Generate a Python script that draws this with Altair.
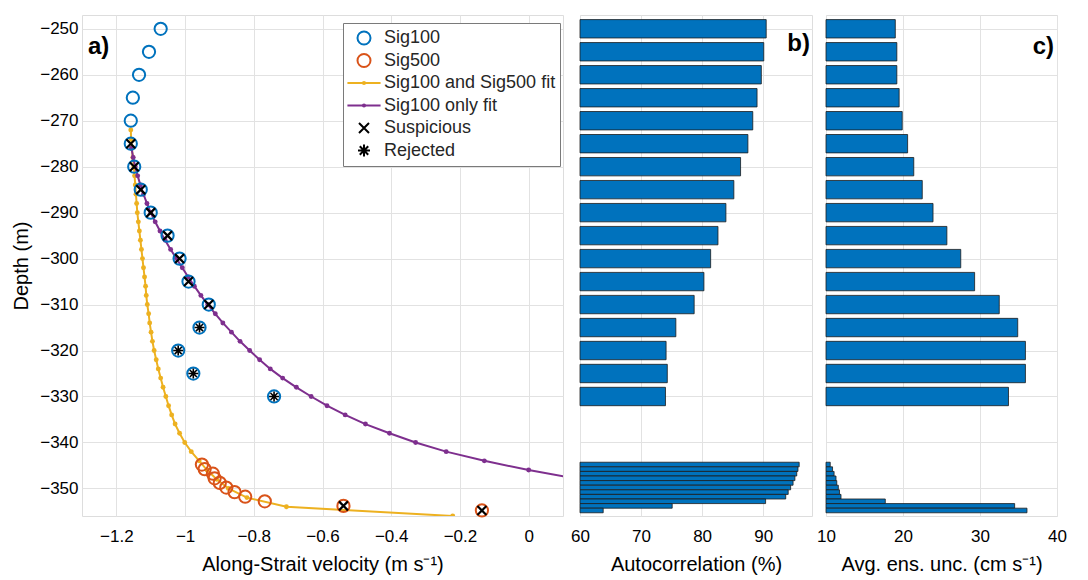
import altair as alt
import pandas as pd

# ---------------- data ----------------
sig100_depth = [-250, -255, -260, -265, -270, -275, -280, -285, -290, -295,
                -300, -305, -310, -315, -320, -325, -330]
sig100_vel = [-1.071, -1.105, -1.134, -1.152, -1.158, -1.158, -1.148, -1.129, -1.100, -1.051,
              -1.016, -0.990, -0.931, -0.958, -1.020, -0.976, -0.741]
sig100_flag = ["", "", "", "", "", "S", "S", "S", "S", "S",
               "S", "S", "S", "R", "R", "R", "R"]

sig500_depth = [-344.8, -345.8, -346.8, -347.8, -348.8, -349.8, -350.8, -351.8,
                -352.8, -353.8, -354.8]
sig500_vel = [-0.951, -0.943, -0.919, -0.914, -0.899, -0.880, -0.856, -0.825,
              -0.768, -0.539, -0.136]
sig500_flag = ["", "", "", "", "", "", "", "", "", "S", "S"]

fit_both_depth = [-272, -274, -276, -278, -280, -282, -284, -286, -288, -290,
                  -292, -294, -296, -298, -300, -302, -304, -306, -308, -310,
                  -312, -314, -316, -318, -320, -322, -324, -326, -328, -330,
                  -332, -334, -336, -338, -340, -342, -344, -346, -348, -350,
                  -352, -354, -356]
fit_both_vel = [-1.158, -1.157, -1.155, -1.152, -1.149, -1.147, -1.145, -1.143, -1.141, -1.139,
                -1.136, -1.133, -1.130, -1.127, -1.124, -1.121, -1.118, -1.115, -1.113, -1.110,
                -1.106, -1.103, -1.099, -1.095, -1.090, -1.084, -1.078, -1.071, -1.064, -1.056,
                -1.048, -1.039, -1.029, -1.016, -1.001, -0.982, -0.959, -0.936, -0.908, -0.874,
                -0.820, -0.705, -0.221]

fit_100_depth = [-276, -278, -280, -282, -284, -286, -288, -290, -292, -294,
                 -296, -298, -300, -302, -304, -306, -308, -310, -312, -314,
                 -316, -318, -320, -322, -324, -326, -328, -330, -332, -334,
                 -336, -338, -340, -342, -344, -346, -348]
fit_100_vel = [-1.156, -1.151, -1.145, -1.138, -1.130, -1.121, -1.111, -1.100, -1.087, -1.073,
               -1.058, -1.042, -1.025, -1.008, -0.991, -0.973, -0.954, -0.934, -0.912, -0.890,
               -0.865, -0.840, -0.812, -0.783, -0.752, -0.716, -0.676, -0.633, -0.587, -0.534,
               -0.475, -0.405, -0.329, -0.240, -0.129, 0.000, 0.150]

autocorr_100 = [90.5, 90.1, 89.7, 89.0, 88.3, 87.5, 86.3, 85.2, 83.9, 82.6,
                81.4, 80.3, 78.7, 75.7, 74.1, 74.3, 74.0]
autocorr_500 = [95.9, 95.7, 95.5, 95.2, 94.9, 94.5, 94.1, 93.7, 90.4, 75.1, 63.8]

unc_100 = [19.0, 19.2, 19.2, 19.5, 19.9, 20.6, 21.4, 22.5, 23.9, 25.7,
           27.5, 29.3, 32.5, 34.9, 35.9, 35.9, 33.7]
unc_500 = [10.55, 10.85, 11.05, 11.3, 11.4, 11.6, 11.75, 11.95, 17.7, 34.5, 36.1]

legend_names = ["Sig100", "Sig500", "Sig100 and Sig500 fit", "Sig100 only fit",
                "Suspicious", "Rejected"]

x_ticks_a = [-1.2, -1.0, -0.8, -0.6, -0.4, -0.2, 0.0]
x_ticks_b = [60, 70, 80, 90]
x_ticks_c = [10, 20, 30, 40]
y_ticks = [-350, -340, -330, -320, -310, -300, -290, -280, -270, -260, -250]

# ---------------- styling ----------------
FONT = "Liberation Sans"
TXT = "#262626"
BOX = "#7a7a7a"
GRID = "#e2e2e2"
BLUE = "#0072BD"
ORANGE = "#D95319"
YELLOW = "#EDB120"
PURPLE = "#7E2F8E"

X_PATH = "M-0.77,-0.77L0.77,0.77M-0.77,0.77L0.77,-0.77"
AST_PATH = ("M-0.92,0L0.92,0M0,-0.92L0,0.92"
            "M-0.65,-0.65L0.65,0.65M-0.65,0.65L0.65,-0.65")
LINE_PATH = ("M-2.55,0L2.55,0"
             "M0.17,0A0.17,0.17,0,1,1,-0.17,0A0.17,0.17,0,1,1,0.17,0")

# ---------------- tables ----------------
sig100 = pd.DataFrame({"d": sig100_depth, "v": sig100_vel, "flag": sig100_flag})
sig500 = pd.DataFrame({"d": sig500_depth, "v": sig500_vel, "flag": sig500_flag})
flags = pd.concat([sig100, sig500], ignore_index=True)
fit_both = pd.DataFrame({"d": fit_both_depth, "v": fit_both_vel})
fit_100 = pd.DataFrame({"d": fit_100_depth, "v": fit_100_vel})
legend_df = pd.DataFrame({"series": legend_names})

bars = pd.DataFrame({
    "depth": sig100_depth + sig500_depth,
    "group": ["Sig100"] * len(sig100_depth) + ["Sig500"] * len(sig500_depth),
    "ac": autocorr_100 + autocorr_500,
    "unc": unc_100 + unc_500,
})

y_scale = alt.Scale(domain=[-356, -247], nice=False, zero=False)
xa_scale = alt.Scale(domain=[-1.3, 0.1], nice=False, zero=False)

y_axis_a = alt.Axis(values=y_ticks, format="d", title="Depth (m)", ticks=False,
                    domain=False, labelPadding=4, titlePadding=8, labelFontSize=17,
                    titleFontSize=20, titleFontWeight="normal", gridColor=GRID)
x_axis_a = alt.Axis(values=x_ticks_a, format="~g", title="Along-Strait velocity (m s⁻¹)",
                    ticks=False, domain=False, labelPadding=12, titlePadding=10,
                    labelFontSize=17, titleFontSize=20, titleFontWeight="normal",
                    labelFlush=False, gridColor=GRID)

X = alt.X("v:Q", scale=xa_scale, axis=x_axis_a)
Y = alt.Y("d:Q", scale=y_scale, axis=y_axis_a)

line_both = alt.Chart(fit_both).mark_line(color=YELLOW, strokeWidth=2, clip=True).encode(
    x=X, y=Y, order="d:Q")
dots_both = alt.Chart(fit_both).mark_point(color=YELLOW, filled=True, size=24, opacity=1,
                                           shape="circle", clip=True).encode(x=X, y=Y)
line_100 = alt.Chart(fit_100).mark_line(color=PURPLE, strokeWidth=2, clip=True).encode(
    x=X, y=Y, order="d:Q")
dots_100 = alt.Chart(fit_100).mark_point(color=PURPLE, filled=True, size=24, opacity=1,
                                         shape="circle", clip=True).encode(x=X, y=Y)

circ100 = alt.Chart(sig100).mark_point(shape="circle", filled=False, color=BLUE,
                                       strokeWidth=2, size=150, opacity=1).encode(x=X, y=Y)
circ500 = alt.Chart(sig500).mark_point(shape="circle", filled=False, color=ORANGE,
                                       strokeWidth=2, size=150, opacity=1).encode(x=X, y=Y)
susp = alt.Chart(flags).transform_filter("datum.flag == 'S'").mark_point(
    shape=X_PATH, filled=False, color="black", strokeWidth=2.2, size=136, opacity=1
).encode(x=X, y=Y)
rej = alt.Chart(flags).transform_filter("datum.flag == 'R'").mark_point(
    shape=AST_PATH, filled=False, color="black", strokeWidth=1.6, size=118, opacity=1
).encode(x=X, y=Y)

legend_layer = alt.Chart(legend_df).mark_point(filled=False, opacity=0).encode(
    color=alt.Color("series:N",
                    scale=alt.Scale(domain=legend_names,
                                    range=[BLUE, ORANGE, YELLOW, PURPLE, "black", "black"]),
                    legend=alt.Legend(title=None, orient="none", legendX=261, legendY=8,
                                      symbolSize=169, symbolStrokeWidth=2, symbolOpacity=1,
                                      labelFontSize=18, labelFont=FONT, labelColor=TXT,
                                      padding=4, rowPadding=0.5, clipHeight=22,
                                      symbolOffset=8, labelOffset=11, strokeColor=BOX,
                                      fillColor="white", labelLimit=300)),
    shape=alt.Shape("series:N",
                    scale=alt.Scale(domain=legend_names,
                                    range=["circle", "circle", LINE_PATH, LINE_PATH,
                                           X_PATH, AST_PATH]),
                    legend=alt.Legend(title=None, orient="none", legendX=261, legendY=8)),
)

label_a = alt.Chart(pd.DataFrame({"t": ["a)"]})).mark_text(
    align="left", baseline="middle", fontSize=24, fontWeight="bold", font=FONT, color="black"
).encode(x=alt.value(6), y=alt.value(32), text="t:N")

panel_a = alt.layer(line_both, dots_both, line_100, dots_100, circ100, circ500, susp, rej,
                    legend_layer, label_a).properties(width=481, height=501)

# ---------------- panels b and c ----------------
y_axis_bc = alt.Axis(values=y_ticks, labels=False, ticks=False, domain=False, title=None,
                     gridColor=GRID, minExtent=0, maxExtent=0, labelPadding=0)


def bar_panel(field, dom, ticks, title, label, label_y):
    base = alt.Chart(bars).transform_calculate(
        half="datum.group == 'Sig100' ? 2 : 0.5"
    ).transform_calculate(
        y1="datum.depth + datum.half", y2="datum.depth - datum.half"
    )
    b = base.mark_bar(color=BLUE, stroke="#1c1c1c", strokeWidth=0.8, opacity=1).encode(
        x=alt.X(f"{field}:Q", scale=alt.Scale(domain=dom[:2], nice=False, zero=False),
                axis=alt.Axis(values=ticks, format="d", title=title, ticks=False,
                              domain=False, labelPadding=12, titlePadding=10,
                              labelFontSize=17, titleFontSize=20, titleFontWeight="normal",
                              labelFlush=False, gridColor=GRID)),
        x2=alt.datum(dom[0]),
        y=alt.Y("y1:Q", scale=y_scale, axis=y_axis_bc),
        y2="y2:Q",
    )
    t = alt.Chart(pd.DataFrame({"t": [label]})).mark_text(
        align="right", baseline="middle", fontSize=24, fontWeight="bold", font=FONT,
        color="black"
    ).encode(x=alt.value(dom[2]), y=alt.value(label_y), text="t:N")
    return alt.layer(b, t)


panel_b = bar_panel("ac", [60, 98, 230], x_ticks_b, "Autocorrelation (%)", "b)", 29).properties(
    width=232, height=501)
panel_c = bar_panel("unc", [10, 40, 228], x_ticks_c, "Avg. ens. unc. (cm s⁻¹)", "c)", 32).properties(
    width=231, height=501)

chart = alt.hconcat(
    panel_a,
    alt.hconcat(panel_b, panel_c, spacing=14, bounds="flush"),
    spacing=17, bounds="flush"
).properties(
    padding={"left": 11, "top": 14, "right": 5, "bottom": 2}
).configure_view(
    stroke=BOX, strokeWidth=1
).configure_axis(
    labelFont=FONT, titleFont=FONT, labelColor=TXT, titleColor=TXT,
    titleFontWeight="normal", gridWidth=1
).configure(background="white")

chart.save("out.html", embed_options={"renderer": "svg", "actions": False})
